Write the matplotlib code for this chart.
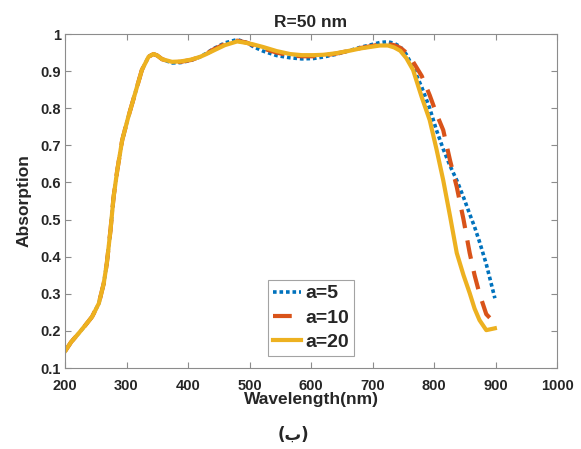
import matplotlib
matplotlib.use("Agg")
import matplotlib.pyplot as plt

# Shared wavelength grid (nm)
wl = [200, 210, 222, 233, 244, 255, 263, 268, 274, 279, 285, 293, 303, 314, 325, 336,
      344, 350, 358, 374, 388, 405, 419, 430, 441, 460, 480, 495, 506, 522, 544, 566,
      585, 604, 620, 640, 660, 680, 700, 712, 725, 735, 745, 755, 766, 780, 793, 804,
      815, 826, 837, 848, 858, 866, 874, 885, 899]

a20 = [0.145, 0.170, 0.193, 0.215, 0.238, 0.274, 0.328, 0.382, 0.472, 0.561, 0.633,
       0.714, 0.777, 0.840, 0.903, 0.939, 0.946, 0.942, 0.932, 0.925, 0.926, 0.931,
       0.938, 0.946, 0.955, 0.970, 0.980, 0.976, 0.972, 0.965, 0.954, 0.946, 0.943,
       0.943, 0.944, 0.948, 0.954, 0.961, 0.966, 0.969, 0.969, 0.964, 0.955, 0.935,
       0.903, 0.830, 0.768, 0.690, 0.606, 0.510, 0.410, 0.350, 0.302, 0.260, 0.229,
       0.202, 0.207]

a10 = [0.145, 0.170, 0.193, 0.215, 0.238, 0.274, 0.328, 0.382, 0.472, 0.561, 0.633,
       0.714, 0.777, 0.840, 0.903, 0.939, 0.946, 0.942, 0.932, 0.924, 0.925, 0.930,
       0.938, 0.947, 0.958, 0.973, 0.982, 0.977, 0.970, 0.961, 0.950, 0.942, 0.940,
       0.940, 0.942, 0.947, 0.954, 0.962, 0.968, 0.972, 0.973, 0.970, 0.963, 0.950,
       0.925, 0.887, 0.835, 0.785, 0.741, 0.660, 0.588, 0.500, 0.410, 0.350, 0.300,
       0.245, 0.221]

a5 = [0.145, 0.170, 0.193, 0.215, 0.238, 0.274, 0.328, 0.382, 0.472, 0.561, 0.633,
      0.714, 0.777, 0.840, 0.903, 0.939, 0.946, 0.942, 0.932, 0.922, 0.923, 0.929,
      0.938, 0.948, 0.960, 0.976, 0.985, 0.977, 0.966, 0.954, 0.942, 0.936, 0.933,
      0.934, 0.938, 0.945, 0.954, 0.964, 0.972, 0.977, 0.979, 0.975, 0.966, 0.945,
      0.910, 0.857, 0.800, 0.741, 0.690, 0.645, 0.606, 0.560, 0.515, 0.480, 0.440,
      0.380, 0.288]

labels = ["a=5", "a=10", "a=20"]
colors = ["#0072BD", "#D95319", "#EDB120"]

plt.rcParams['font.family'] = ['Liberation Sans', 'DejaVu Sans']
plt.rcParams['font.weight'] = 'bold'

fig = plt.figure(figsize=(5.81, 4.49), dpi=100)
ax = fig.add_axes([65/581, 1-368/449, (557-65)/581, (368-34)/449])

ax.plot(wl, a5, color=colors[0], lw=2.6, linestyle=(0, (1.0, 0.8)), label=labels[0])
ax.plot(wl, a10, color=colors[1], lw=3, linestyle=(0, (4.5, 3)), label=labels[1])
ax.plot(wl, a20, color=colors[2], lw=3, linestyle='-', label=labels[2])

ax.set_xlim(200, 1000)
ax.set_ylim(0.1, 1.0)
ax.set_xticks(range(200, 1001, 100))
ax.set_yticks([0.1, 0.2, 0.3, 0.4, 0.5, 0.6, 0.7, 0.8, 0.9, 1.0])
ax.set_yticklabels(["0.1", "0.2", "0.3", "0.4", "0.5", "0.6", "0.7", "0.8", "0.9", "1"])

for sp in ax.spines.values():
    sp.set_color('#8c8c8c')
    sp.set_linewidth(0.8)
ax.tick_params(direction='in', top=True, right=True, length=4, color='#8c8c8c',
               labelsize=10.5, labelcolor='#262626')
ax.tick_params(axis='x', pad=8)
ax.tick_params(axis='y', pad=3)
for lbl in ax.get_xticklabels() + ax.get_yticklabels():
    lbl.set_fontweight('bold')

ax.set_title("R=50 nm", fontsize=12.5, fontweight='bold', color='#262626', pad=5)
ax.set_xlabel("Wavelength(nm)", fontsize=12.5, fontweight='bold', color='#262626', labelpad=-1)
ax.set_ylabel("Absorption", fontsize=12.5, fontweight='bold', color='#262626', labelpad=6)

leg = ax.legend(loc='lower left', bbox_to_anchor=((268-65)/492, (368-356)/334),
                prop={'family': 'Liberation Sans', 'weight': 'bold', 'size': 14},
                frameon=True, fancybox=False, handlelength=1.45,
                handletextpad=0.2, borderpad=0.25, labelspacing=0.35, borderaxespad=0)
leg.get_frame().set_edgecolor('#8c8c8c')
leg.get_frame().set_linewidth(0.8)
for t in leg.get_texts():
    t.set_color('#262626')

fig.text(293/581, 1-435/449, "(ب)", ha='center', va='center', fontsize=12,
         fontweight='bold', color='#262626', family=['DejaVu Sans'])

fig.savefig("out.png", dpi=100)
